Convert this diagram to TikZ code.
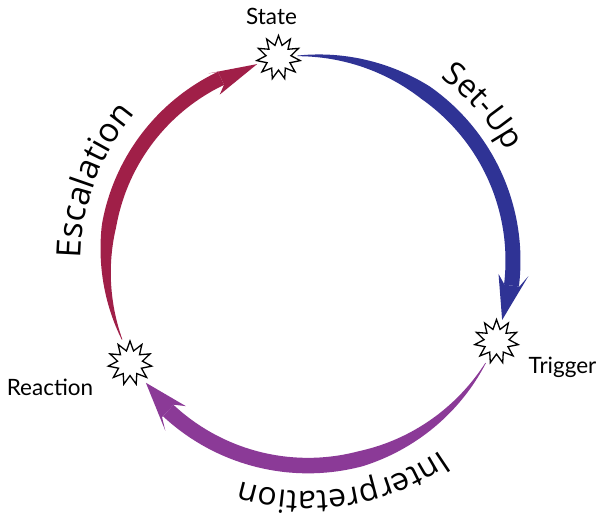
\documentclass[tikz,border=0pt]{standalone}
\usepackage{fontspec}
\setmainfont{Lato}
\newfontfamily\arcfnt{Open Sans}
\usetikzlibrary{shapes.geometric,decorations.text}
\definecolor{setupblue}{RGB}{47,51,149}
\definecolor{interpurple}{RGB}{139,58,151}
\definecolor{escred}{RGB}{160,31,72}
\newcommand\arcfmt{\fontsize{32}{36}\selectfont\arcfnt}
\newcommand\arcfmtb{\fontsize{33.5}{36}\selectfont\arcfnt}
% color, radius, start angle (thin end), end angle, ramp end angle, full width
\newcommand\brushstroke[6]{%
  \fill[#1] plot[domain={#4}:{#3}, samples=90]
      (\x:{#2+0.5*(0.6+(#6-0.6)*min(1,((#3)-\x)/((#3)-(#5))))})
    -- plot[domain={#4}:{#3}, samples=90]
      ({(#3)+(#4)-\x}:{#2-0.5*(0.6+(#6-0.6)*min(1,(\x-(#4))/((#3)-(#5))))})
    -- cycle;}
% color, tip angle, tip r, barb angle, barb r out, barb r in, notch angle, notch r out, notch r in
\newcommand\brushhead[9]{%
  \fill[#1] (#4:#5) -- (#2:#3) -- (#4:#6) -- (#7:#9) -- (#7:#8) -- cycle;}
\begin{document}
\begin{tikzpicture}[x=1pt,y=1pt,
  burst/.style={star, star points=11, star point ratio=1.75, minimum size=44pt,
    inner sep=0pt, draw=black, line width=1.3pt, fill=white},
  lbl/.style={font=\fontsize{22.5}{24}\selectfont, inner sep=0pt, anchor=base}]
\useasboundingbox (0,0) rectangle (600,523);
\begin{scope}[shift={(308,262.4)}]
  % Set-Up (blue)
  \brushstroke{setupblue}{205}{93}{-7}{55}{15}
  \brushhead{setupblue}{-17}{203}{-4}{221}{191}{-7}{213}{198}
  % Interpretation (purple)
  \brushstroke{interpurple}{205}{-30}{-133}{-75}{15.5}
  \brushhead{interpurple}{-143}{203}{-130}{222}{190}{-133}{214}{197}
  % Escalation (red)
  \brushstroke{escred}{202}{203}{115.5}{170}{14.5}
  \brushhead{escred}{104.5}{203}{118}{212}{188}{115.5}{209}{195}
  % curved labels
  \path[decorate, decoration={text along path, text={|\arcfmt|Set-Up}, text align=center}]
    (70:226) arc[start angle=70, end angle=13, radius=226pt];
  \path[decorate, decoration={text along path, text={|\arcfmtb|Escalation}, text align=center}]
    (193:227) arc[start angle=193, end angle=126, radius=227pt];
  \path[decorate, decoration={text along path, text={|\arcfmt|Interpretation}, text align=center}]
    (-41:231) arc[start angle=-41, end angle=-121, radius=231pt];
\end{scope}
\node[burst] (state) at (278.5,465.5) {};
\node[burst] (trigger) at (496.5,181.5) {};
\node[burst] (reaction) at (130,160) {};
\node[lbl] (stateL) at (271.5,498) {State};
\node[lbl] (triggerL) at (562.5,150) {Trigger};
\node[lbl] (reactionL) at (50,128) {Reaction};
\end{tikzpicture}
\end{document}
